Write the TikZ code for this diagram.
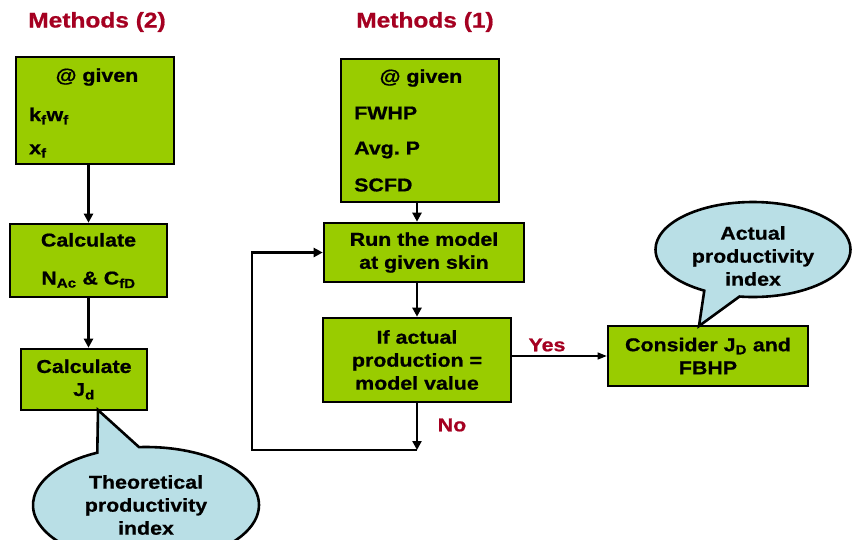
\documentclass[tikz,border=0pt]{standalone}
\usepackage{fontspec}
\setmainfont{Liberation Sans}[FakeStretch=1.15, BoldFeatures={FakeBold=0.8}]
\usetikzlibrary{shapes.callouts,arrows.meta}
\definecolor{boxgreen}{HTML}{99CC00}
\definecolor{callblue}{HTML}{B9DFE6}
\definecolor{titlered}{HTML}{A50021}
\begin{document}
\begin{tikzpicture}[x=1pt,y=-1pt,
  box/.style={draw=black, line width=2.6pt, fill=boxgreen, inner sep=0pt,
    font=\bfseries\fontsize{18.6}{23}\selectfont, align=center},
  txt/.style={font=\bfseries\fontsize{18.6}{23}\selectfont, align=center, inner sep=0pt},
  ttl/.style={font=\bfseries\fontsize{21.3}{24}\selectfont, text=titlered, inner sep=0pt},
  lbl/.style={font=\bfseries\fontsize{18.6}{23}\selectfont, text=titlered, inner sep=0pt},
  arr/.style={line width=2.4pt, -{Triangle[length=9pt,width=9pt]}},
  thinarr/.style={line width=1.1pt, -{Triangle[length=9pt,width=7pt]}},
  bubble/.style={ellipse callout, draw=black, line width=2.6pt, fill=callblue,
    inner sep=0pt, callout pointer arc=22}
]
\useasboundingbox (0,0) rectangle (852,539);
\clip (0,0) rectangle (852,539);
\fill[white] (0,0) rectangle (852,539);

% titles
\node[ttl] (t2) at (97,22) {Methods (2)};
\node[ttl] (t1) at (425,22) {Methods (1)};

% left column
\node[box, minimum width=158pt, minimum height=107pt] (A) at (95,110.5) {};
\node[txt] (Ag) at (97,77) {@ given};
\node[txt, anchor=west] (Ak) at (29,116) {k\textsubscript{f}w\textsubscript{f}};
\node[txt, anchor=west] (Ax) at (29,151) {x\textsubscript{f}};

\node[box, minimum width=157pt, minimum height=73pt] (B) at (88.5,260.5)
  {Calculate\\[15pt] N\textsubscript{Ac} \& C\textsubscript{fD}};
\node[box, minimum width=126pt, minimum height=61pt] (C) at (84,379.5)
  {Calculate\\J\textsubscript{d}};

\draw[arr] (A.south -| B.north) -- (B.north);
\draw[arr] (B.south) -- (B.south |- C.north);

% right column
\node[box, minimum width=158pt, minimum height=143pt] (D) at (420,130.5) {};
\node[txt] (Dg) at (421,78) {@ given};
\node[txt, anchor=west] (D1) at (354,113) {FWHP};
\node[txt, anchor=west] (D2) at (354,150) {Avg.\ P};
\node[txt, anchor=west] (D3) at (354,185) {SCFD};

\node[box, minimum width=200pt, minimum height=59pt] (E) at (424,252.5)
  {Run the model\\at given skin};
\node[box, minimum width=188pt, minimum height=84pt] (F) at (417,360)
  {If actual\\production =\\model value};
\node[box, minimum width=200pt, minimum height=60pt] (G) at (708,356)
  {Consider J\textsubscript{D} and\\FBHP};

\draw[arr] (D.south -| F.north) -- (E.north -| F.north);
\draw[arr] (E.south -| F.north) -- (F.north);

\coordinate (L) at (417,450);
\coordinate (LL) at (252,450);
\draw[arr] (F.south) -- (L);
\draw[arr] (L) -- (LL) |- (E.west);
\node[lbl] (no) at (452,425) {No};

\draw[thinarr] (F.east |- G.west) -- (G.west);
\node[lbl] (yes) at (547,345) {Yes};

% callouts
\node[bubble, minimum width=226pt, minimum height=116pt,
  callout absolute pointer={(98,410)}] (T) at (146,505) {};
\node[txt] (Tt) at (146,505) {Theoretical\\productivity\\index};

\node[bubble, minimum width=195pt, minimum height=95pt,
  callout absolute pointer={(699,326)}] (P) at (753,249.5) {};
\node[txt] (Pt) at (753,256) {Actual\\productivity\\index};
\end{tikzpicture}
\end{document}
